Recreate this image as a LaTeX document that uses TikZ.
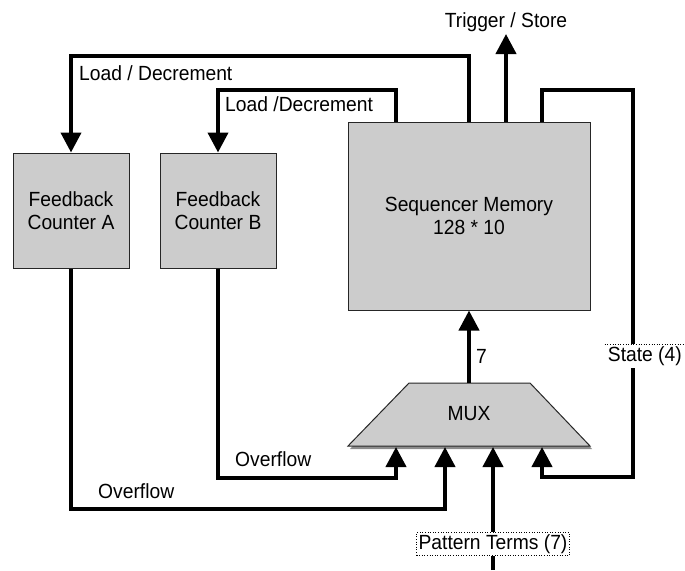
\documentclass[tikz,border=0pt]{standalone}
\usepackage{fontspec}
\setmainfont{Liberation Sans}[FakeStretch=0.94]
\usetikzlibrary{arrows.meta}
\definecolor{boxgray}{HTML}{CCCCCC}
\definecolor{shadowgray}{HTML}{8C8C8C}
\tikzset{
  wire/.style={line width=4pt},
  arr/.style={wire,-{Triangle[width=20pt,length=20pt]}},
  blk/.style={draw=black!85, line width=1pt, fill=boxgray, align=center, inner sep=0pt},
  lbl/.style={inner sep=0pt, font=\fontsize{20.5}{23}\selectfont},
}
\begin{document}
\begin{tikzpicture}[x=1pt,y=-1pt]
\useasboundingbox (0,0) rectangle (685,570);
% blocks
\node[blk, minimum width=116pt, minimum height=115pt, lbl] (cA) at (71,210.5) {Feedback\\Counter A};
\node[blk, minimum width=116pt, minimum height=115pt, lbl] (cB) at (218,210.5) {Feedback\\Counter B};
\node[blk, minimum width=242pt, minimum height=188pt, lbl] (mem) at (469,216) {Sequencer Memory\\128 * 10};
% MUX trapezoid
\coordinate (mout) at (469,383);
\fill[shadowgray] (411,386) -- (532,386) -- (592,449) -- (350,449) -- cycle;
\draw[draw=black!85, line width=1pt, fill=boxgray] (409,383) -- (530,383) -- (590,446) -- (348,446) -- cycle;
\node[lbl] (mux) at (469,414) {MUX};
\coordinate (in1) at (396,447);
\coordinate (in2) at (445,447);
\coordinate (in3) at (493,447);
\coordinate (in4) at (542,447);
\coordinate (pbot) at (493,570);
% connectors
\node[lbl, anchor=south, inner sep=2pt] (trig) at (506,34) {Trigger / Store};
\draw[arr] (mem.north) -- ++(0,-66) -| (cA.north);
\draw[arr] ([xshift=-73pt]mem.north) -- ++(0,-32) -| (cB.north);
\draw[arr] ([xshift=37pt]mem.north) -- (trig.south);
\draw[arr] ([xshift=73pt]mem.north) -- ++(0,-32) -- ++(91,0) -- ++(0,387) -| (in4);
\draw[arr] (mout) -- (mem.south);
\draw[arr] (cB.south) -- ++(0,209) -| (in1);
\draw[arr] (cA.south) -- ++(0,240) -| (in2);
\draw[arr] (pbot) -- (in3);
% labels
\node[lbl, anchor=west] (ldA) at (79,73) {Load / Decrement};
\node[lbl, anchor=west] (ldB) at (225,104) {Load /Decrement};
\node[lbl, anchor=west] (ovB) at (235,459) {Overflow};
\node[lbl, anchor=west] (ovA) at (98,491) {Overflow};
\node[lbl, anchor=west] (seven) at (476,356) {7};
\node[lbl, fill=white, inner sep=2pt, anchor=east] (state) at (684,356) {State (4)};
\draw[dotted, line width=0.6pt] ([xshift=-1pt]state.north west) -- ([xshift=1pt]state.north east);
\node[lbl, fill=white, inner sep=2pt, draw=black, dotted, line width=0.6pt] (pat) at (493,544) {Pattern Terms (7)};
\end{tikzpicture}
\end{document}
